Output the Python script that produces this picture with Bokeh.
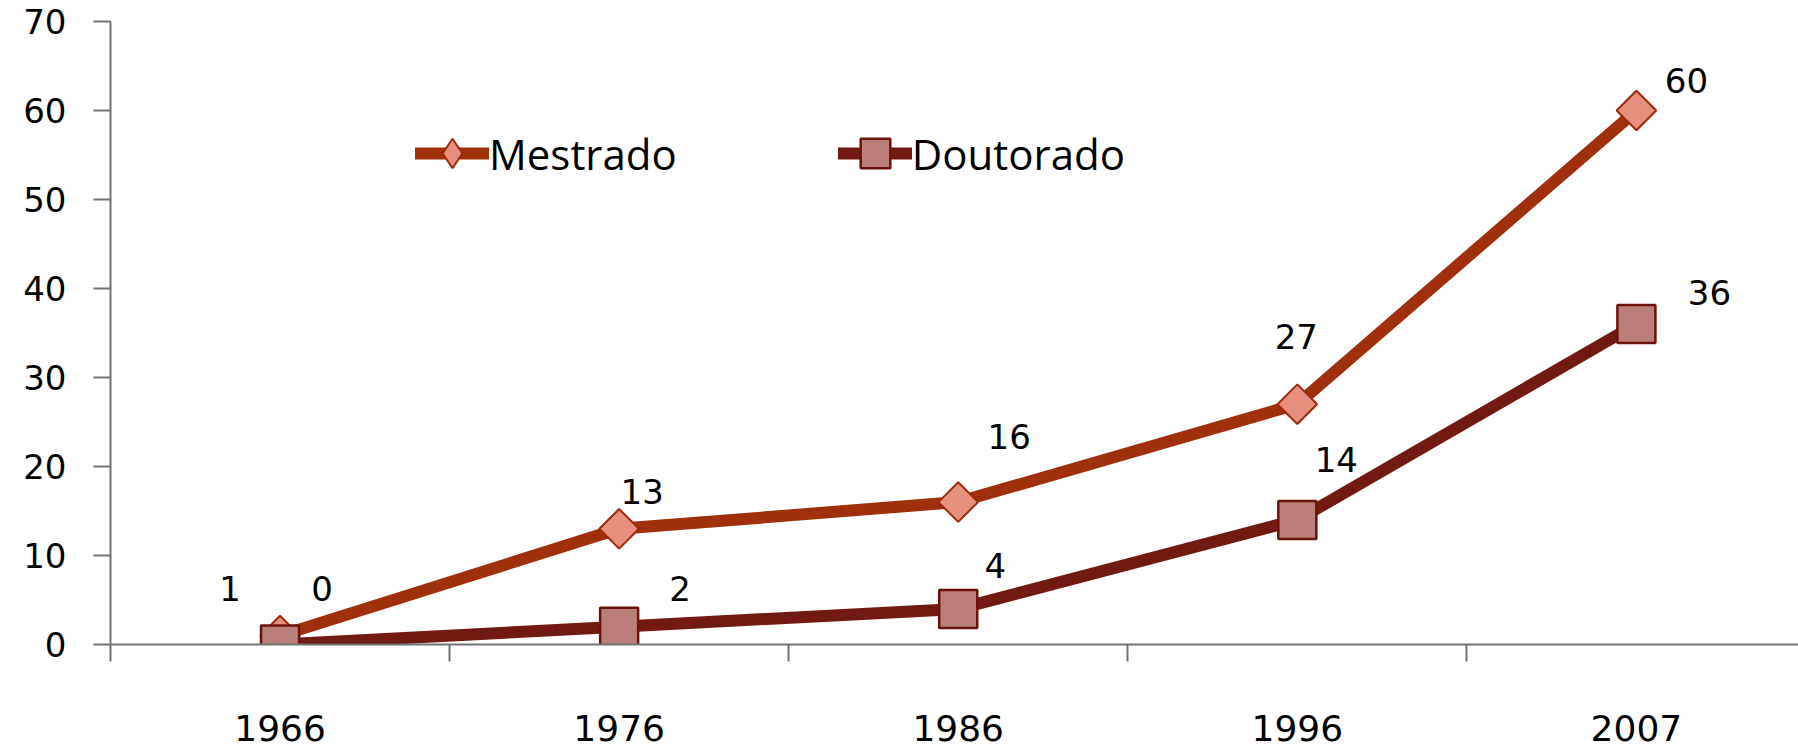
import math
from bokeh.plotting import figure
from bokeh.models import Range1d, FixedTicker, Legend, LegendItem, ColumnDataSource
from bokeh.core.properties import value
from bokeh.embed import file_html
from bokeh.resources import INLINE

# ---- data ----
years = ["1966", "1976", "1986", "1996", "2007"]
mestrado = [1, 13, 16, 27, 60]
doutorado = [0, 2, 4, 14, 36]
y_ticks = [0, 10, 20, 30, 40, 50, 60, 70]

# data-label offsets in screen pixels (+right, +down)
mest_dx = [-50, 23, 51, -1, 50]
mest_dy = [-47, -37, -66, -68, -30]
dout_dx = [42, 61, 37, 39, 73]
dout_dy = [-56, -38, -43, -60, -32]

xs = list(range(len(years)))

NUM_FONT = value("DejaVu Sans")
AXIS_COLOR = "#737373"
MEST_LINE = "#A0300A"
MEST_FILL = "#E8907E"
MEST_EDGE = "#9C2A08"
DOUT_LINE = "#731A10"
DOUT_FILL = "#BC7E78"
DOUT_EDGE = "#6B1308"

X_START, X_END = -0.5, 4.478
p = figure(width=1798, height=750, output_backend="svg", toolbar_location=None,
           x_range=Range1d(X_START, X_END), y_range=Range1d(0, 70),
           min_border_left=110, min_border_right=0, min_border_top=21, min_border_bottom=106)
p.outline_line_color = None
p.xgrid.visible = False
p.ygrid.visible = False
p.background_fill_color = "white"

# x axis: labels at category centres, ticks between categories
xa = p.xaxis[0]
xa.ticker = FixedTicker(ticks=xs, minor_ticks=[i - 0.5 for i in range(len(years))])
xa.major_label_overrides = {i: y for i, y in enumerate(years)}
xa.major_tick_out = 0
xa.major_tick_in = 0
xa.major_tick_line_color = None
xa.minor_tick_out = 17
xa.minor_tick_in = 0
xa.minor_tick_line_color = AXIS_COLOR
xa.minor_tick_line_width = 2
xa.axis_line_color = AXIS_COLOR
xa.axis_line_width = 2
xa.major_label_standoff = 53
xa.major_label_text_font = "DejaVu Sans"
xa.major_label_text_font_size = "36px"
xa.major_label_text_color = "black"

ya = p.yaxis[0]
ya.ticker = FixedTicker(ticks=y_ticks, minor_ticks=[])
ya.major_tick_out = 17
ya.major_tick_in = 0
ya.major_tick_line_color = AXIS_COLOR
ya.major_tick_line_width = 2
ya.minor_tick_line_color = None
ya.axis_line_color = AXIS_COLOR
ya.axis_line_width = 2
ya.major_label_standoff = 27
ya.major_label_text_font = "DejaVu Sans"
ya.major_label_text_font_size = "34px"
ya.major_label_text_color = "black"

src_m = ColumnDataSource(dict(x=xs, y=mestrado, t=[str(v) for v in mestrado], dx=mest_dx, dy=mest_dy))
src_d = ColumnDataSource(dict(x=xs, y=doutorado, t=[str(v) for v in doutorado], dx=dout_dx, dy=dout_dy))

lm = p.line("x", "y", source=src_m, line_color=MEST_LINE, line_width=12, line_cap="round", line_join="round")
p.scatter("x", "y", source=src_m, marker="square", angle=math.pi / 4, size=28,
          fill_color=MEST_FILL, line_color=MEST_EDGE, line_width=2)
ld = p.line("x", "y", source=src_d, line_color=DOUT_LINE, line_width=12, line_cap="round", line_join="round")
p.scatter("x", "y", source=src_d, marker="square", size=38,
          fill_color=DOUT_FILL, line_color=DOUT_EDGE, line_width=2.5)

# legend-only marker proxies, placed outside the visible ranges
proxy_src = ColumnDataSource(dict(x=[X_START - 5], y=[-100]))
pm = p.scatter("x", "y", source=proxy_src, marker="diamond", size=10,
               fill_color=MEST_FILL, line_color=MEST_EDGE, line_width=2)
pd_ = p.scatter("x", "y", source=proxy_src, marker="square", size=10,
                fill_color=DOUT_FILL, line_color=DOUT_EDGE, line_width=2.5)

p.text("x", "y", text="t", source=src_m, x_offset="dx", y_offset="dy",
       text_align="center", text_baseline="middle", text_font=NUM_FONT,
       text_font_size="34px", text_color="black")
p.text("x", "y", text="t", source=src_d, x_offset="dx", y_offset="dy",
       text_align="center", text_baseline="middle", text_font=NUM_FONT,
       text_font_size="34px", text_color="black")

legend = Legend(items=[LegendItem(label="Mestrado", renderers=[lm, pm]),
                       LegendItem(label="Doutorado", renderers=[ld, pd_])],
                orientation="horizontal", location=(305, 451), spacing=161,
                glyph_width=74, glyph_height=80, label_standoff=0,
                padding=0, margin=0, border_line_alpha=0, background_fill_alpha=0,
                label_text_font="Open Sans", label_text_font_size="42px",
                label_text_color="black")
p.add_layout(legend)

open("out.html", "w").write(file_html(p, INLINE))
